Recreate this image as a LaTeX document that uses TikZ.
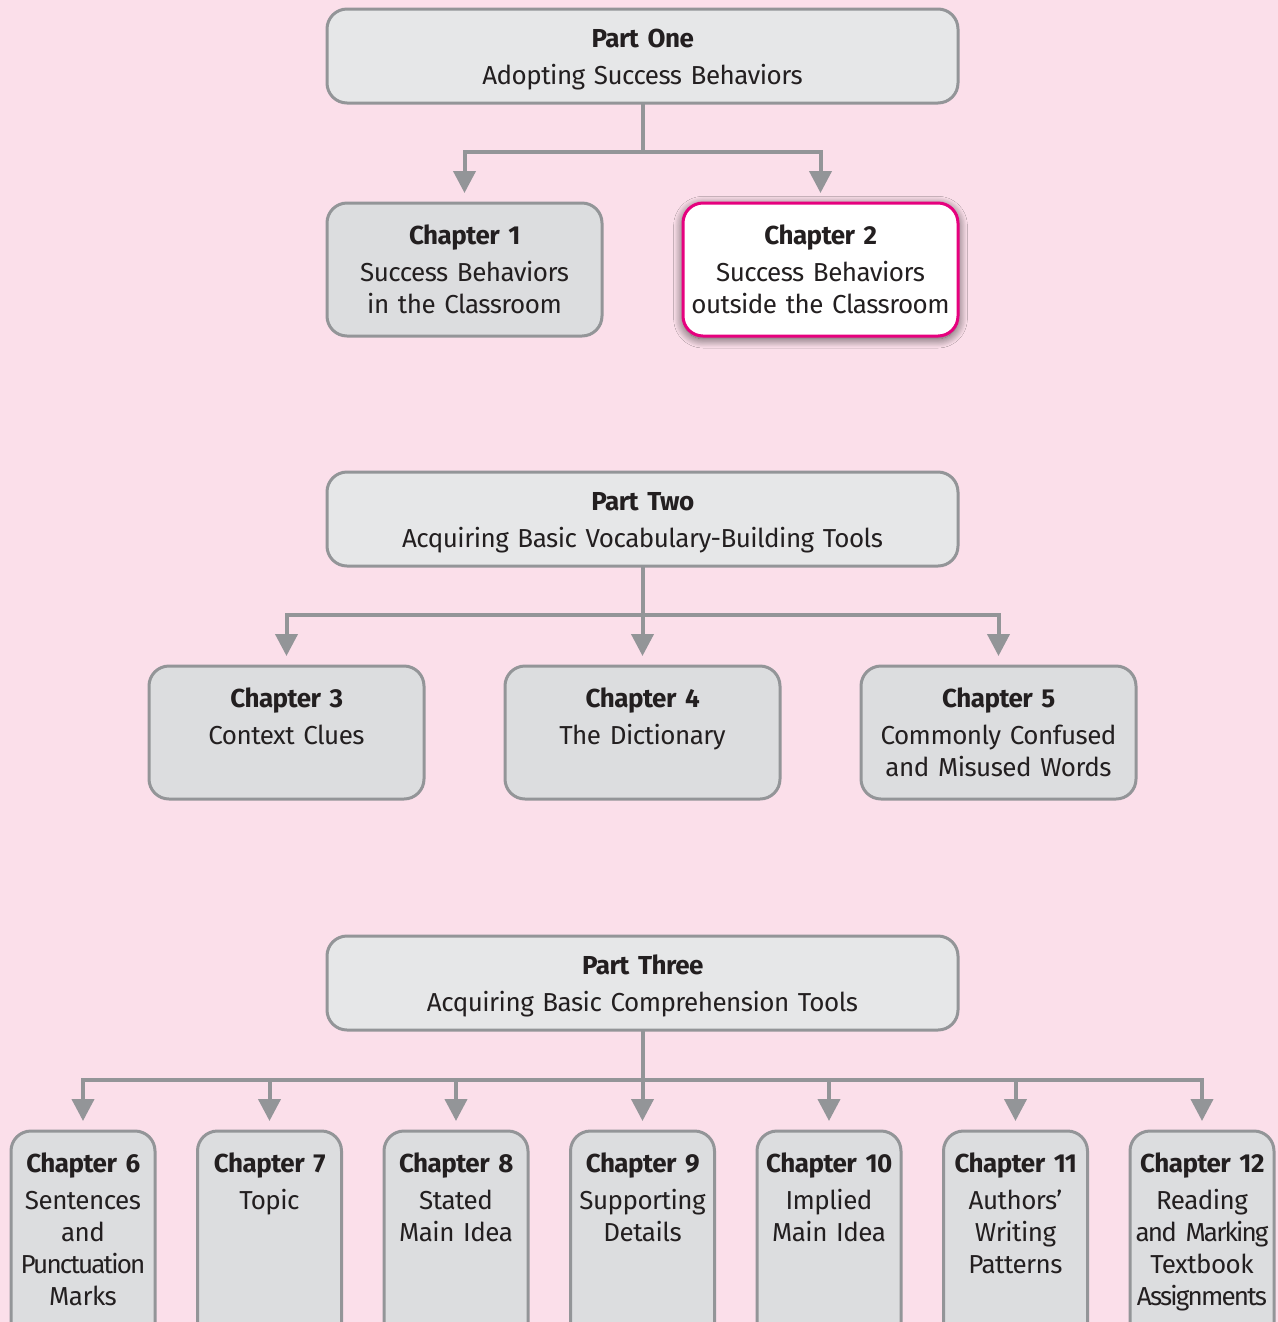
\documentclass[tikz,border=0pt]{standalone}
\usepackage{fontspec}
\setmainfont{Fira Sans}[LetterSpace=-2]
\usetikzlibrary{arrows.meta}
\usetikzlibrary{shadows.blur}
\definecolor{pagepink}{RGB}{251,223,234}
\definecolor{partfill}{RGB}{230,231,232}
\definecolor{chapfill}{RGB}{220,221,223}
\definecolor{edgegray}{RGB}{147,149,152}
\definecolor{focuspink}{RGB}{230,0,126}
\definecolor{inkblack}{RGB}{35,31,32}
\newcommand{\chap}[2]{\textbf{#1}\\[3.75pt]#2}
\newcommand{\squeeze}[1]{{\addfontfeature{LetterSpace=-7}#1}}
\tikzset{
	box/.style={draw=edgegray,line width=2.25pt,rounded corners=15pt,outer sep=0pt,inner xsep=0pt,inner ysep=0pt,align=center,anchor=north,text=inkblack,font=\fontsize{19.5}{24}\selectfont},
	partbox/.style={box,fill=partfill,text width=473.25pt,text height=28.5pt,text depth=42pt},
	chapbox/.style={box,fill=chapfill,text width=206.25pt,text height=30.75pt,text depth=69pt},
	focusbox/.style={chapbox,fill=white,draw=focuspink,blur shadow={shadow xshift=0pt,shadow yshift=-2pt,shadow blur radius=7pt,shadow blur steps=14,shadow opacity=70}},
	narrowbox/.style={box,fill=chapfill,text width=108pt,text height=30.75pt,text depth=160pt},
	conn/.style={draw=edgegray,line width=3pt,-{Triangle[width=16.5pt,length=16.5pt]},shorten >=7.5pt}
}
\begin{document}
\begin{tikzpicture}[x=0.75pt,y=-0.75pt]
	\useasboundingbox (0,0) rectangle (1278,1322);
	\clip (0,0) rectangle (1278,1322);
	\fill[pagepink] (0,0) rectangle (1278,1322);
	% part one
	\node[partbox] (p1) at (642.5,9) {\chap{Part One}{Adopting Success Behaviors}};
	\node[chapbox] (ch1) at (464.5,203) {\chap{Chapter 1}{Success Behaviors\\in the Classroom}};
	\node[focusbox] (ch2) at (820.5,203) {\chap{Chapter 2}{Success Behaviors\\outside the Classroom}};
	\coordinate (j1) at (642.5,152);
	\draw[conn] (p1.south) -- (j1) -| (ch1.north);
	\draw[conn] (p1.south) -- (j1) -| (ch2.north);
	% part two
	\node[partbox] (p2) at (642.5,472) {\chap{Part Two}{Acquiring Basic Vocabulary-Building Tools}};
	\node[chapbox] (ch3) at (286.5,666) {\chap{Chapter 3}{Context Clues}};
	\node[chapbox] (ch4) at (642.5,666) {\chap{Chapter 4}{The Dictionary}};
	\node[chapbox] (ch5) at (998.5,666) {\chap{Chapter 5}{Commonly Confused\\and Misused Words}};
	\coordinate (j2) at (642.5,615);
	\foreach \c in {ch3,ch4,ch5}
		\draw[conn] (p2.south) -- (j2) -| (\c.north);
	% part three
	\node[partbox] (p3) at (642.5,936) {\chap{Part Three}{Acquiring Basic Comprehension Tools}};
	\node[narrowbox] (ch6) at (83,1131) {\chap{Chapter 6}{Sentences\\and\\\squeeze{Punctuation}\\Marks}};
	\node[narrowbox] (ch7) at (269.5,1131) {\chap{Chapter 7}{Topic}};
	\node[narrowbox] (ch8) at (456,1131) {\chap{Chapter 8}{Stated\\Main Idea}};
	\node[narrowbox] (ch9) at (642.5,1131) {\chap{Chapter 9}{Supporting\\Details}};
	\node[narrowbox] (ch10) at (829,1131) {\chap{Chapter 10}{Implied\\Main Idea}};
	\node[narrowbox] (ch11) at (1015.5,1131) {\chap{Chapter 11}{Authors’\\Writing\\Patterns}};
	\node[narrowbox] (ch12) at (1202,1131) {\chap{Chapter 12}{Reading\\\squeeze{and Marking}\\Textbook\\\squeeze{Assignments}}};
	\coordinate (j3) at (642.5,1080);
	\foreach \c in {ch6,ch7,ch8,ch9,ch10,ch11,ch12}
		\draw[conn] (p3.south) -- (j3) -| (\c.north);
\end{tikzpicture}
\end{document}
